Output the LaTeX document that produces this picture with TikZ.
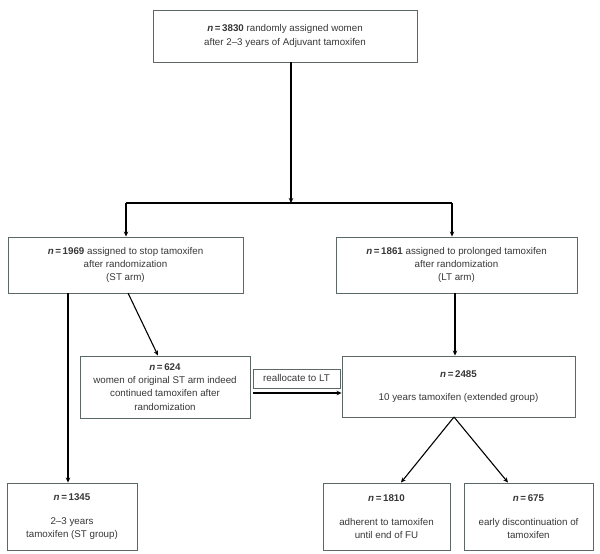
\documentclass[tikz,border=0pt]{standalone}
\usepackage{fontspec}
\setmainfont{Liberation Sans}
\usetikzlibrary{arrows.meta,calc}
\definecolor{boxline}{HTML}{5C6868}
\definecolor{txt}{HTML}{383838}
\begin{document}
\begin{tikzpicture}[x=1bp,y=-1bp,
  box/.style={draw=boxline,line width=0.9pt,align=center,inner sep=0pt,
    text=txt,font=\fontsize{9.8}{13.3}\selectfont},
  conn/.style={draw=black,line width=1.1pt,-{Stealth[length=5pt,width=4.5pt]}},
  plain/.style={draw=black,line width=1.1pt}]
\useasboundingbox[fill=white] (0,0) rectangle (600,554);
\newcommand{\nn}[1]{\textbf{\textit{n}\,=\,#1}}
\node[box,minimum width=264bp,minimum height=52bp] (top) at (285,36)
  {\nn{3830} randomly assigned women\\after 2–3 years of Adjuvant tamoxifen};
\node[box,minimum width=235bp,minimum height=56bp] (st) at (125.5,265)
  {\nn{1969} assigned to stop tamoxifen\\after randomization\\(ST arm)};
\node[box,minimum width=241bp,minimum height=56bp] (lt) at (456.5,265)
  {\nn{1861} assigned to prolonged tamoxifen\\after randomization\\(LT arm)};
\node[box,minimum width=170bp,minimum height=62bp] (g624) at (165,387)
  {\nn{624}\\women of original ST arm indeed\\continued tamoxifen after\\randomization};
\node[box,minimum width=87bp,minimum height=19bp] (re) at (296.5,378.5)
  {reallocate to LT};
\node[box,minimum width=233bp,minimum height=61bp] (ext) at (458.5,386.5)
  {\nn{2485}\\[10bp]10 years tamoxifen (extended group)};
\node[box,minimum width=130bp,minimum height=67bp] (g1345) at (72,516.5)
  {\nn{1345}\\[11bp]2–3 years\\tamoxifen (ST group)};
\node[box,minimum width=127bp,minimum height=67bp] (g1810) at (386.5,516.5)
  {\nn{1810}\\[11bp]adherent to tamoxifen\\until end of FU};
\node[box,minimum width=129bp,minimum height=67bp] (g675) at (528.5,516.5)
  {\nn{675}\\[11bp]early discontinuation of\\tamoxifen};
\coordinate (j) at (291,203);
\coordinate (jl) at (126,203);
\coordinate (jr) at (452,203);
\draw[conn] (top.south -| j) -- (j);
\draw[plain] (jl) -- (jr);
\draw[conn] (jl) -- (jl |- st.north);
\draw[conn] (jr) -- (jr |- lt.north);
\coordinate (stv) at (68,293);
\draw[conn] (stv) -- (stv |- g1345.north);
\coordinate (std) at (128,293);
\draw[conn] (std) -- (158,0 |- g624.north);
\coordinate (ltv) at (455,293);
\draw[conn] (ltv) -- (ltv |- ext.north);
\coordinate (ra) at (253,393);
\draw[conn,line width=1.6pt] (ra) -- (ra -| ext.west);
\coordinate (ap) at (454,417);
\draw[conn] (ap) -- (401,0 |- g1810.north);
\draw[conn] (ap) -- (508,0 |- g675.north);
\end{tikzpicture}
\end{document}
